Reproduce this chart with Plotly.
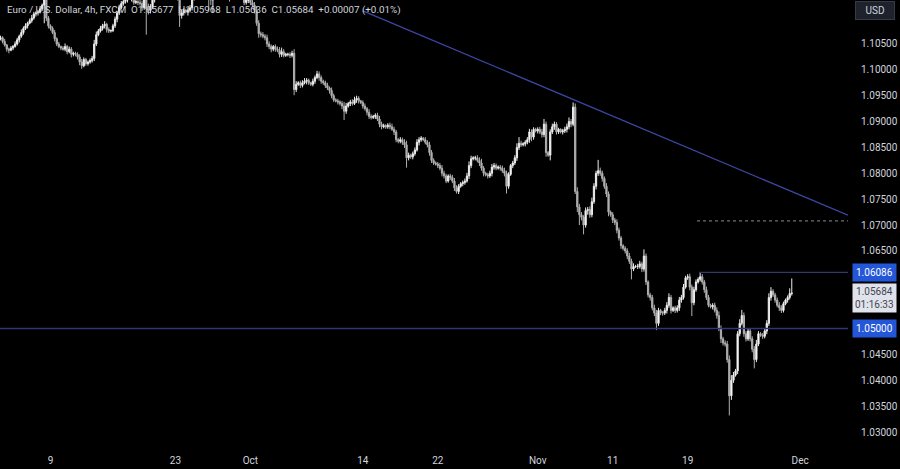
import pandas as pd
import plotly.graph_objects as go

# ---------------- data (prices in pips, 1 pip = 0.0001) ----------------
first_open = 11060

close_by_day = [
    [11062, 11055, 11048, 11040, 11038, 11042],  # Sep 3
    [11045, 11050, 11058, 11065, 11072, 11080],  # Sep 4
    [11085, 11090, 11095, 11100, 11108, 11110],  # Sep 5
    [11112, 11118, 11125, 11140, 11100, 11085],  # Sep 6
    [11080, 11072, 11060, 11050, 11045, 11042],  # Sep 9
    [11040, 11045, 11035, 11040, 11030, 11032],  # Sep 10
    [11030, 11025, 11015, 11008, 11020, 11012],  # Sep 11
    [11015, 11018, 11022, 11050, 11068, 11075],  # Sep 12
    [11080, 11085, 11088, 11078, 11075, 11076],  # Sep 13
    [11085, 11098, 11110, 11120, 11128, 11132],  # Sep 16
    [11135, 11140, 11138, 11145, 11130, 11132],  # Sep 17
    [11130, 11128, 11120, 11135, 11118, 11115],  # Sep 18
    [11122, 11135, 11160, 11170, 11165, 11160],  # Sep 19
    [11155, 11150, 11145, 11160, 11165, 11163],  # Sep 20
    [11150, 11140, 11105, 11110, 11115, 11112],  # Sep 23
    [11115, 11120, 11140, 11160, 11175, 11180],  # Sep 24
    [11185, 11195, 11205, 11190, 11140, 11135],  # Sep 25
    [11140, 11150, 11160, 11180, 11175, 11177],  # Sep 26
    [11170, 11165, 11140, 11160, 11165, 11163],  # Sep 27
    [11160, 11150, 11145, 11130, 11135, 11135],  # Sep 30
    [11130, 11125, 11115, 11090, 11070, 11068],  # Oct 1
    [11065, 11062, 11050, 11045, 11040, 11045],  # Oct 2
    [11040, 11038, 11030, 11035, 11028, 11030],  # Oct 3
    [11030, 11028, 11032, 10962, 10972, 10975],  # Oct 4
    [10970, 10975, 10978, 10980, 10975, 10972],  # Oct 7
    [10978, 10985, 10992, 10985, 10978, 10975],  # Oct 8
    [10970, 10965, 10960, 10950, 10942, 10940],  # Oct 9
    [10938, 10935, 10930, 10920, 10930, 10935],  # Oct 10
    [10938, 10935, 10942, 10945, 10940, 10937],  # Oct 11
    [10930, 10925, 10918, 10910, 10908, 10910],  # Oct 14
    [10912, 10905, 10895, 10890, 10892, 10890],  # Oct 15
    [10893, 10890, 10885, 10880, 10865, 10862],  # Oct 16
    [10865, 10860, 10855, 10830, 10835, 10832],  # Oct 17
    [10838, 10845, 10860, 10865, 10868, 10865],  # Oct 18
    [10860, 10855, 10840, 10825, 10820, 10818],  # Oct 21
    [10815, 10810, 10800, 10795, 10785, 10795],  # Oct 22
    [10792, 10785, 10772, 10765, 10775, 10780],  # Oct 23
    [10782, 10785, 10795, 10815, 10828, 10830],  # Oct 24
    [10830, 10825, 10820, 10810, 10800, 10797],  # Oct 25
    [10795, 10800, 10812, 10815, 10810, 10812],  # Oct 28
    [10810, 10805, 10800, 10775, 10798, 10815],  # Oct 29
    [10820, 10830, 10850, 10858, 10855, 10857],  # Oct 30
    [10860, 10865, 10880, 10870, 10885, 10882],  # Oct 31
    [10885, 10880, 10875, 10895, 10840, 10835],  # Nov 1
    [10880, 10890, 10895, 10880, 10885, 10880],  # Nov 4
    [10882, 10885, 10890, 10900, 10895, 10928],  # Nov 5
    [10765, 10735, 10720, 10715, 10700, 10728],  # Nov 6
    [10730, 10720, 10745, 10775, 10800, 10805],  # Nov 7
    [10800, 10790, 10775, 10760, 10725, 10720],  # Nov 8
    [10710, 10705, 10690, 10675, 10660, 10655],  # Nov 11
    [10650, 10640, 10630, 10615, 10620, 10620],  # Nov 12
    [10620, 10625, 10615, 10640, 10590, 10565],  # Nov 13
    [10560, 10540, 10530, 10510, 10535, 10530],  # Nov 14
    [10530, 10535, 10545, 10560, 10535, 10540],  # Nov 15
    [10535, 10540, 10555, 10560, 10580, 10598],  # Nov 18
    [10600, 10580, 10550, 10575, 10590, 10595],  # Nov 19
    [10600, 10590, 10575, 10560, 10545, 10542],  # Nov 20
    [10545, 10535, 10525, 10500, 10480, 10472],  # Nov 21
    [10470, 10440, 10370, 10400, 10410, 10418],  # Nov 22
    [10490, 10510, 10525, 10490, 10480, 10495],  # Nov 25
    [10480, 10460, 10440, 10470, 10490, 10487],  # Nov 26
    [10485, 10495, 10510, 10560, 10572, 10565],  # Nov 27
    [10555, 10545, 10540, 10535, 10548, 10555],  # Nov 28
    [10560, 10567.7, 10568.4],                   # Nov 29 (live)
]

wick_up_by_day = [
    [4, 3, 5, 2, 3, 4], [3, 5, 4, 3, 6, 4], [5, 3, 4, 6, 4, 3], [4, 5, 3, 15, 8, 4],
    [3, 4, 5, 3, 4, 2], [4, 6, 3, 5, 4, 3], [3, 4, 5, 6, 4, 3], [3, 4, 5, 8, 6, 4],
    [5, 4, 6, 3, 4, 2], [4, 5, 4, 6, 5, 3], [5, 4, 6, 5, 4, 3], [4, 5, 6, 8, 54, 10],
    [5, 6, 8, 6, 4, 3], [4, 5, 6, 5, 4, 2], [3, 5, 8, 6, 4, 3], [4, 5, 6, 5, 6, 3],
    [5, 6, 9, 8, 5, 4], [5, 6, 5, 8, 6, 3], [4, 5, 6, 8, 5, 3], [5, 4, 6, 5, 4, 3],
    [4, 5, 6, 8, 6, 4], [5, 4, 6, 5, 4, 3], [4, 5, 6, 8, 5, 3], [3, 4, 5, 8, 6, 3],
    [4, 5, 6, 4, 3, 2], [5, 4, 6, 5, 4, 3], [4, 5, 3, 6, 4, 3], [4, 3, 5, 8, 6, 3],
    [4, 5, 6, 5, 4, 2], [4, 5, 3, 6, 4, 3], [4, 5, 6, 5, 4, 3], [4, 5, 6, 5, 4, 3],
    [5, 4, 6, 8, 5, 3], [4, 5, 6, 5, 4, 2], [5, 4, 6, 5, 4, 3], [4, 5, 6, 5, 4, 3],
    [4, 5, 6, 5, 4, 3], [4, 5, 6, 8, 6, 3], [4, 5, 6, 8, 4, 3], [4, 5, 6, 5, 4, 3],
    [4, 5, 6, 5, 4, 3], [4, 5, 8, 12, 5, 3], [4, 5, 6, 5, 4, 3], [4, 5, 6, 10, 5, 3],
    [5, 6, 5, 4, 3, 2], [4, 5, 6, 8, 5, 9], [7, 8, 6, 5, 4, 6], [5, 6, 8, 6, 5, 21],
    [6, 5, 4, 6, 5, 3], [5, 4, 6, 5, 4, 3], [4, 5, 6, 5, 6, 3], [5, 6, 4, 13, 5, 3],
    [4, 5, 6, 6, 5, 3], [4, 5, 6, 8, 5, 3], [4, 5, 6, 5, 6, 4], [5, 6, 5, 6, 5, 4],
    [9, 5, 4, 6, 5, 3], [4, 5, 6, 8, 6, 4], [5, 6, 8, 10, 6, 4], [5, 8, 11, 6, 5, 4],
    [4, 5, 6, 8, 5, 3], [4, 5, 6, 8, 8, 4], [4, 5, 6, 5, 4, 3], [4, 10, 28.4],
]

wick_dn_by_day = [
    [3, 4, 3, 5, 6, 2], [4, 2, 3, 5, 3, 4], [3, 5, 2, 4, 3, 5], [5, 3, 4, 35, 6, 5],
    [4, 3, 5, 4, 3, 4], [3, 4, 5, 3, 6, 4], [4, 5, 6, 6, 3, 4], [4, 3, 4, 5, 4, 3],
    [3, 4, 5, 6, 4, 3], [3, 4, 6, 4, 3, 4], [4, 5, 3, 6, 4, 3], [5, 4, 6, 4, 50, 8],
    [6, 4, 5, 4, 6, 3], [3, 5, 4, 6, 3, 4], [4, 6, 22, 6, 5, 3], [7, 4, 5, 6, 4, 3],
    [4, 5, 6, 8, 25, 10], [25, 4, 5, 6, 5, 4], [5, 6, 8, 5, 4, 3], [4, 5, 6, 5, 4, 6],
    [5, 4, 6, 5, 8, 5], [4, 5, 6, 5, 6, 4], [5, 4, 6, 5, 4, 3], [4, 5, 4, 11, 5, 3],
    [5, 4, 3, 6, 4, 3], [4, 5, 3, 6, 5, 4], [5, 4, 6, 5, 4, 3], [5, 4, 6, 17, 5, 3],
    [5, 4, 3, 6, 5, 3], [5, 4, 6, 5, 4, 3], [5, 4, 6, 5, 3, 4], [4, 5, 3, 6, 5, 4],
    [4, 5, 6, 19, 5, 4], [5, 4, 3, 6, 4, 3], [4, 5, 6, 5, 4, 3], [5, 4, 6, 5, 4, 3],
    [5, 4, 6, 4, 5, 3], [5, 4, 3, 6, 5, 3], [5, 4, 6, 5, 6, 3], [5, 4, 6, 5, 4, 3],
    [5, 4, 6, 14, 5, 3], [5, 4, 6, 5, 4, 3], [5, 4, 6, 8, 5, 3], [5, 4, 6, 5, 8, 3],
    [10, 4, 6, 5, 4, 3], [5, 4, 6, 5, 6, 4], [5, 10, 20, 6, 18, 5], [8, 6, 5, 4, 6, 5],
    [5, 6, 5, 6, 8, 4], [6, 5, 6, 5, 6, 4], [5, 6, 5, 20, 4, 3], [5, 4, 6, 5, 6, 5],
    [6, 5, 6, 13, 5, 4], [5, 4, 6, 5, 6, 3], [5, 4, 6, 5, 4, 3], [4, 6, 26, 5, 4, 3],
    [4, 5, 6, 5, 4, 3], [5, 4, 6, 5, 8, 5], [5, 6, 38, 8, 5, 3], [6, 5, 4, 6, 5, 4],
    [5, 6, 17, 5, 4, 3], [5, 4, 6, 5, 6, 4], [5, 4, 6, 5, 4, 3], [5, 4, 4.1],
]

candle_hours = [0, 4, 8, 12, 16, 20]
x_tick_dates = ["2024-09-09", "2024-09-23", "2024-10-01", "2024-10-14", "2024-10-22",
                "2024-11-01", "2024-11-11", "2024-11-19", "2024-12-02"]
x_tick_text = ["9", "23", "Oct", "14", "22", "Nov", "11", "19", "Dec"]
y_ticks = [1.105, 1.100, 1.095, 1.090, 1.085, 1.080, 1.075, 1.070, 1.065,
           1.045, 1.040, 1.035, 1.030]

support_level = 1.05000
resistance_level = 1.06086
dotted_level = 1.0708
last_price = 1.05684
countdown = "01:16:33"
trend_start = ("2024-10-14 00:00", 1.1114)
trend_end = ("2024-12-05 20:00", 1.0719)
header = ("Euro / U.S. Dollar, 4h, FXCM  O1.05677  H1.05968  L1.05636  "
          "C1.05684  +0.00007 (+0.01%)")

# ---------------- build OHLC ----------------
days = pd.bdate_range("2024-09-03", "2024-11-29")
times, closes, ups, dns = [], [], [], []
for d, cs, us, ds in zip(days, close_by_day, wick_up_by_day, wick_dn_by_day):
    for h, c, u, w in zip(candle_hours, cs, us, ds):
        times.append(d + pd.Timedelta(hours=h))
        closes.append(c)
        ups.append(u)
        dns.append(w)

opens = [first_open] + closes[:-1]
highs = [max(o, c) + u for o, c, u in zip(opens, closes, ups)]
lows = [min(o, c) - w for o, c, w in zip(opens, closes, dns)]
S = 1e-4

FONT = "Roboto, Noto Sans, sans-serif"

fig = go.Figure()
fig.add_trace(go.Candlestick(
    x=times,
    open=[v * S for v in opens], high=[v * S for v in highs],
    low=[v * S for v in lows], close=[v * S for v in closes],
    increasing=dict(line=dict(color="#ececec", width=1), fillcolor="#ffffff"),
    decreasing=dict(line=dict(color="#b0b0b0", width=1), fillcolor="#b0b0b0"),
    whiskerwidth=0, showlegend=False, hoverinfo="skip",
))

fig.add_shape(type="line", xref="paper", yref="y", x0=0, x1=1,
              y0=support_level, y1=support_level,
              line=dict(color="#323770", width=1.3))
fig.add_shape(type="line", xref="x", yref="y", x0="2024-11-19 22:00", x1=trend_end[0],
              y0=resistance_level, y1=resistance_level,
              line=dict(color="#323770", width=1.3))
fig.add_shape(type="line", xref="x", yref="y", x0="2024-11-19 18:00", x1=trend_end[0],
              y0=dotted_level, y1=dotted_level,
              line=dict(color="#8a8d96", width=1, dash="dot"))
fig.add_shape(type="line", xref="x", yref="y",
              x0=trend_start[0], y0=trend_start[1], x1=trend_end[0], y1=trend_end[1],
              line=dict(color="#3c47a6", width=1.3))

lab_font = dict(family=FONT, size=10, color="#ffffff")
fig.add_annotation(xref="paper", yref="y", x=1, y=resistance_level, xanchor="left",
                   xshift=4, text=f"{resistance_level:.5f}", showarrow=False,
                   bgcolor="#2456d8", borderpad=3, font=lab_font)
fig.add_annotation(xref="paper", yref="y", x=1, y=support_level, xanchor="left",
                   xshift=4, text=f"{support_level:.5f}", showarrow=False,
                   bgcolor="#2456d8", borderpad=3, font=lab_font)
fig.add_annotation(xref="paper", yref="y", x=1, y=last_price, xanchor="left",
                   yanchor="middle", xshift=4, yshift=-5,
                   text=f"{last_price:.5f}<br>{countdown}", showarrow=False,
                   bgcolor="#e0e3eb", borderpad=2, align="center",
                   font=dict(family=FONT, size=10, color="#434651"))
fig.add_annotation(xref="paper", yref="paper", x=1, y=1, xanchor="left", yanchor="top",
                   xshift=7, yshift=-1, text="USD", showarrow=False, width=32,
                   bgcolor="#1e222d", bordercolor="#363a45", borderwidth=1, borderpad=3,
                   font=dict(family=FONT, size=10, color="#d1d4dc"))
fig.add_annotation(xref="paper", yref="paper", x=0, y=1, xanchor="left", yanchor="top",
                   xshift=5, yshift=-2, text=header, showarrow=False,
                   font=dict(family=FONT, size=9.8, color="#d1d4dc"))

fig.update_layout(
    width=900, height=469,
    margin=dict(l=0, r=52, t=0, b=22),
    paper_bgcolor="#000000", plot_bgcolor="#000000",
    boxgap=0.15,
    font=dict(family=FONT, size=10, color="#d1d4dc"),
    xaxis=dict(
        type="date", range=["2024-09-02 23:00", trend_end[0]],
        rangebreaks=[dict(bounds=["sat", "mon"])],
        rangeslider=dict(visible=False),
        tickmode="array", tickvals=x_tick_dates, ticktext=x_tick_text,
        showgrid=False, zeroline=False, showline=False,
        ticks="outside", ticklen=4, tickcolor="rgba(0,0,0,0)",
        tickfont=dict(size=10, color="#d1d4dc"),
    ),
    yaxis=dict(
        side="right", range=[1.0271, 1.1135],
        tickmode="array", tickvals=y_ticks, ticktext=[f"{v:.5f}" for v in y_ticks],
        showgrid=False, zeroline=False, showline=False,
        ticks="outside", ticklen=10, tickcolor="rgba(0,0,0,0)",
        tickfont=dict(size=10, color="#d1d4dc"),
    ),
)

fig.write_html("out.html",
               config={"displayModeBar": False},
               post_script="document.body.style.margin='0';"
                           "document.body.style.background='#000';")
